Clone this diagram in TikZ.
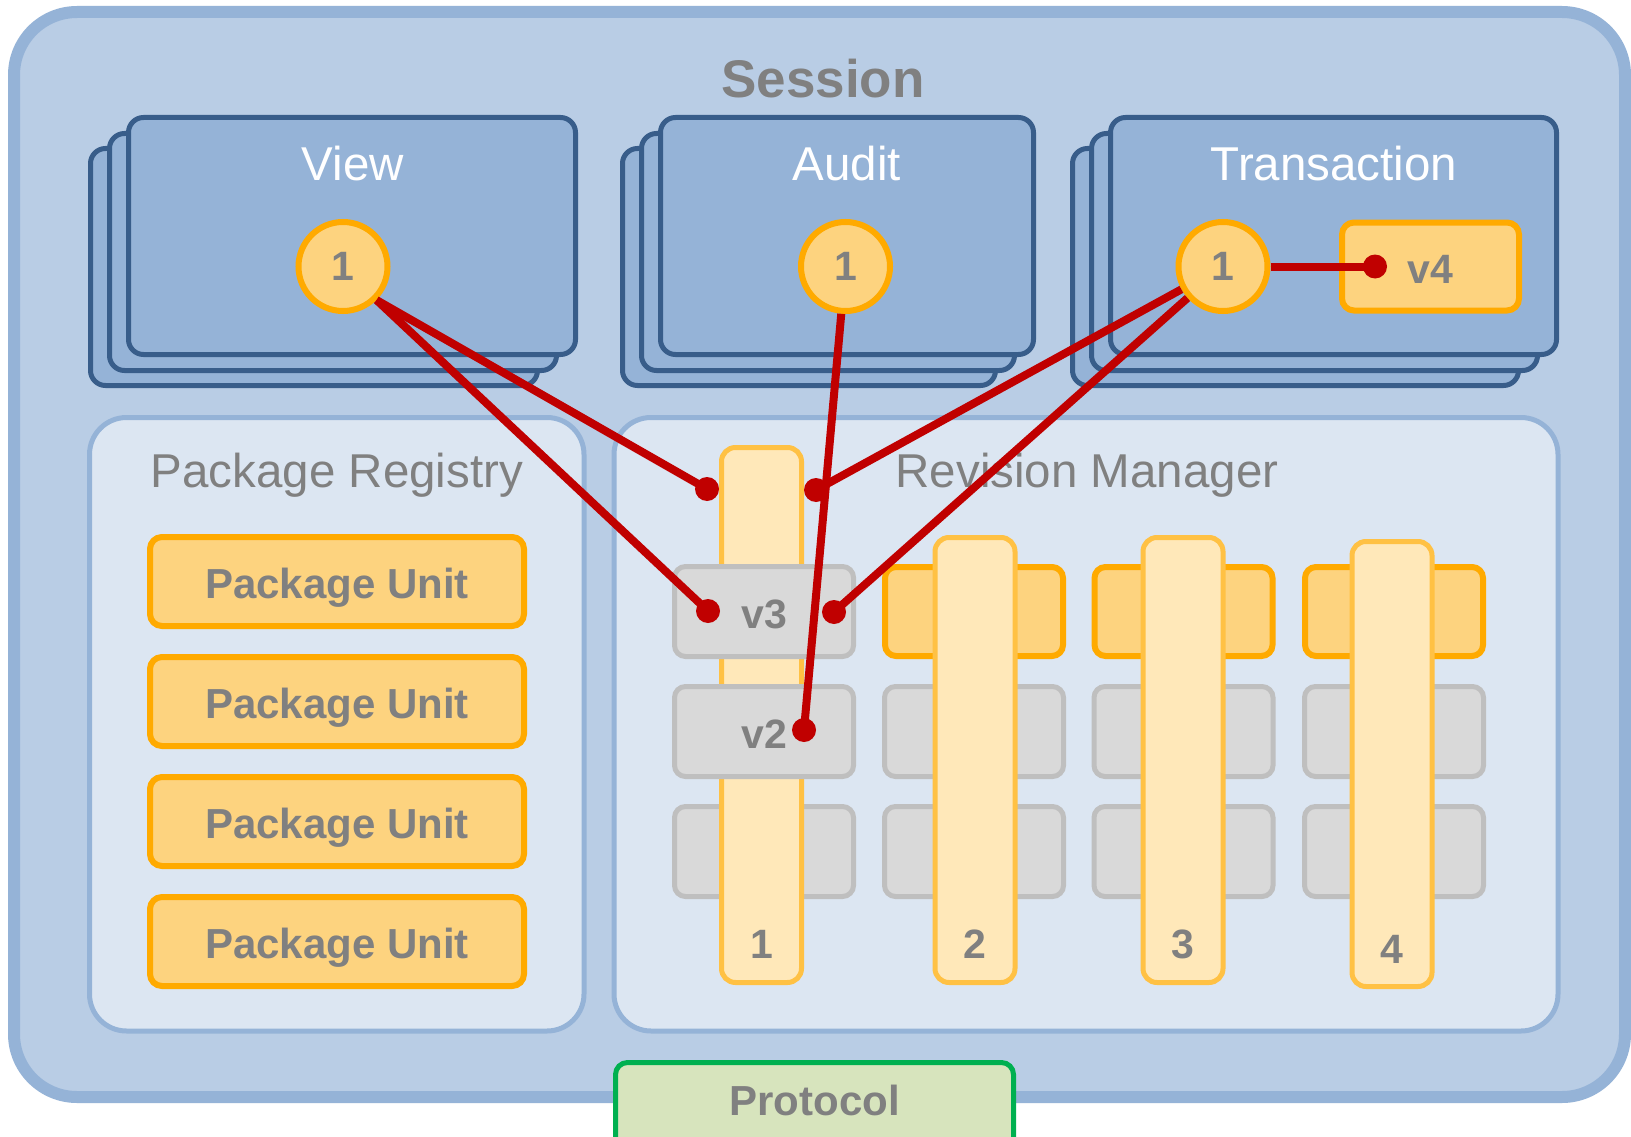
\documentclass[tikz,border=0pt]{standalone}
\usepackage{fontspec}
\setmainfont{Liberation Sans}
\definecolor{outerfill}{HTML}{B9CDE5}
\definecolor{outerline}{HTML}{95B3D7}
\definecolor{stackfill}{HTML}{95B3D7}
\definecolor{stackline}{HTML}{385D8A}
\definecolor{panelfill}{HTML}{DCE6F2}
\definecolor{orfill}{HTML}{FDD37F}
\definecolor{orline}{HTML}{FFAA00}
\definecolor{colfill}{HTML}{FFE8B9}
\definecolor{colline}{HTML}{FFC144}
\definecolor{gfill}{HTML}{D9D9D9}
\definecolor{gline}{HTML}{BFBFBF}
\definecolor{redc}{HTML}{C00000}
\definecolor{txtgray}{HTML}{808080}
\definecolor{protfill}{HTML}{D7E4BD}
\definecolor{protline}{HTML}{00B050}
\begin{document}
\begin{tikzpicture}[x=1pt,y=-1pt,
  box/.style={rectangle, inner sep=0pt, outer sep=0pt},
  stackbox/.style={box, draw=stackline, fill=stackfill, line width=5pt, rounded corners=15pt, minimum height=237pt},
  panel/.style={box, draw=outerline, fill=panelfill, line width=5pt, rounded corners=37pt, minimum height=613.5pt},
  orbox/.style={box, draw=orline, fill=orfill, line width=6pt, rounded corners=12pt},
  gbox/.style={box, draw=gline, fill=gfill, line width=5pt, rounded corners=11pt, minimum width=179pt, minimum height=90pt},
  obox/.style={box, draw=orline, fill=orfill, line width=6pt, rounded corners=11pt, minimum width=178pt, minimum height=89pt},
  colbar/.style={box, draw=colline, fill=colfill, line width=5pt, rounded corners=14pt, minimum width=80pt},
  numcirc/.style={circle, draw=orline, fill=orfill, line width=6pt, minimum size=89pt, inner sep=0pt, outer sep=3pt, text=txtgray, font=\bfseries\fontsize{41}{44}\selectfont},
  wtitle/.style={anchor=base, text=white, font=\fontsize{47.5}{50}\selectfont, inner sep=0pt},
  ptitle/.style={anchor=base, text=txtgray, font=\fontsize{47.5}{50}\selectfont, inner sep=0pt},
  boldlbl/.style={anchor=base, text=txtgray, font=\bfseries\fontsize{41}{44}\selectfont, inner sep=0pt},
  unitlbl/.style={anchor=base, text=txtgray, font=\bfseries\fontsize{42}{45}\selectfont, inner sep=0pt},
  redline/.style={draw=redc, line width=8pt},
]
\useasboundingbox (0,0) rectangle (1631,1137);
\clip (0,0) rectangle (1631,1137);
\fill[white] (0,0) rectangle (1631,1137);

% Session
\node[box, draw=outerline, fill=outerfill, line width=12pt, rounded corners=63pt, minimum width=1611pt, minimum height=1085pt] (session) at (819.5,554.5) {};
\node[anchor=base, text=txtgray, font=\bfseries\fontsize{53}{56}\selectfont, inner sep=0pt] (sessT) at (823,98) {Session};

% View stack
\node[stackbox, minimum width=447pt] (viewC) at (314,267) {};
\node[stackbox, minimum width=447pt] (viewB) at (333,252) {};
\node[stackbox, minimum width=447pt] (viewA) at (352,236) {};
\node[wtitle] (viewT) at (353,180.5) {View};
\node[numcirc] (vc) at (343,266.5) {1};

% Audit stack
\node[stackbox, minimum width=373pt] (auditC) at (809,267) {};
\node[stackbox, minimum width=373pt] (auditB) at (828,252) {};
\node[stackbox, minimum width=373pt] (auditA) at (847,236) {};
\node[wtitle] (auditT) at (847,180.5) {Audit};
\node[numcirc] (ac) at (845.5,266.5) {1};

% Transaction stack
\node[stackbox, minimum width=446pt] (transC) at (1295.5,267) {};
\node[stackbox, minimum width=446pt] (transB) at (1314.5,252) {};
\node[stackbox, minimum width=446pt] (transA) at (1333.5,236) {};
\node[wtitle] (transT) at (1334,180.5) {Transaction};
\node[numcirc] (tc) at (1223,266.5) {1};
\node[orbox, minimum width=177pt, minimum height=88pt] (v4box) at (1430.5,266.5) {};
\node[boldlbl] (v4T) at (1430,283) {v4};

% Panels
\node[panel, minimum width=494.5pt] (registry) at (336.75,724.25) {};
\node[ptitle] (registryT) at (337,487) {Package Registry};
\node[panel, minimum width=944pt] (revman) at (1086,724.25) {};
\node[ptitle] (revmanT) at (1087,487) {Revision Manager};

% Package units
\foreach \i/\yy in {1/581.5, 2/701.5, 3/821.5, 4/941.5} {
  \node[orbox, minimum width=374pt, minimum height=89pt] (unit\i) at (337,\yy) {};
  \node[unitlbl] (unitT\i) at (337,\yy+16.8) {Package Unit};
}

% Column 1
\node[gbox] (g13) at (764,851.5) {};
\node[colbar, minimum height=535pt] (col1) at (761.5,715) {};
\node[gbox] (g11) at (764,611.5) {};
\node[gbox] (g12) at (764,731.5) {};
\node[boldlbl] (v3T) at (764,628) {v3};
\node[boldlbl] (v2T) at (764,748) {v2};

% Columns 2-4
\foreach \c/\xx in {2/974, 3/1183.5, 4/1394} {
  \node[obox] (g\c1) at (\xx,611.5) {};
  \node[gbox] (g\c2) at (\xx,731.5) {};
  \node[gbox] (g\c3) at (\xx,851.5) {};
}
\node[colbar, minimum height=445pt] (col2) at (975,760) {};
\node[colbar, minimum height=445pt] (col3) at (1183,760) {};
\node[colbar, minimum height=445pt] (col4) at (1392,764) {};

\node[boldlbl] (n1) at (761.5,958) {1};
\node[boldlbl] (n2) at (975,958) {2};
\node[boldlbl] (n3) at (1183,958) {3};
\node[boldlbl] (n4) at (1392,963) {4};

% Protocol
\node[box, draw=protline, fill=protfill, line width=5pt, rounded corners=12pt, minimum width=398pt, minimum height=99pt] (protocol) at (814.5,1112) {};
\node[unitlbl] (protocolT) at (814.5,1115) {Protocol};

% Red connectors
\coordinate (dA) at (707,489);
\coordinate (dV3L) at (708,611);
\coordinate (dB) at (816,490);
\coordinate (dV3R) at (834,612);
\coordinate (dV2) at (804,730);
\coordinate (dV4) at (1375,266.5);
\draw[redline] (vc.-45) -- (dA);
\draw[redline] (vc.-45) -- (dV3L);
\draw[redline] (ac) -- (dV2);
\draw[redline] (tc) -- (dB);
\draw[redline] (tc) -- (dV3R);
\draw[redline] (tc) -- (dV4);
\foreach \d in {dA,dV3L,dB,dV3R,dV2,dV4} {
  \fill[redc] (\d) circle[radius=12pt];
}
\end{tikzpicture}
\end{document}
